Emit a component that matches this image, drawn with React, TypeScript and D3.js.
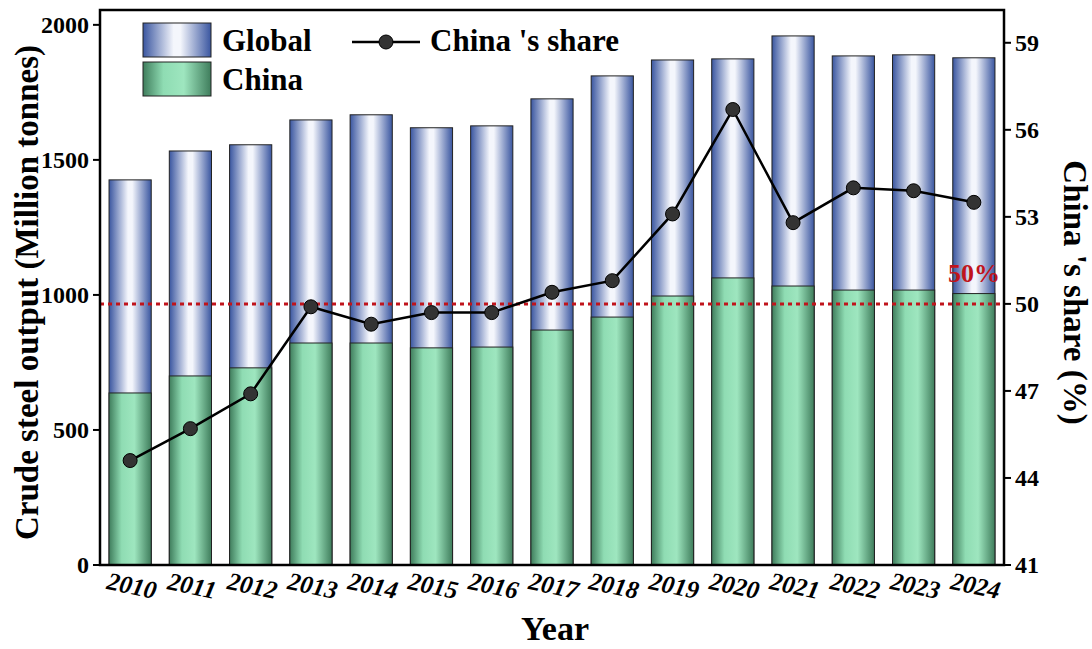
import React from "react";
import * as d3 from "d3";

const years = ["2010","2011","2012","2013","2014","2015","2016","2017","2018","2019","2020","2021","2022","2023","2024"];
const globalOut = [1426,1533,1556,1648,1667,1619,1626,1726,1811,1870,1874,1959,1885,1889,1878];
const chinaOut = [637,700,730,822,822,804,807,870,918,996,1063,1033,1018,1018,1005];
const share = [44.6,45.7,46.9,49.9,49.3,49.7,49.7,50.4,50.8,53.1,56.7,52.8,54.0,53.9,53.5];
const leftTicks = [0,500,1000,1500,2000];
const rightTicks = [41,44,47,50,53,56,59];

const F = "'Liberation Serif','Times New Roman',serif";

export default function App() {
  const L = 100, R = 1004, T = 10, B = 565;
  const x = d3.scaleBand().domain(years).range([L, R]).paddingInner(0.3).paddingOuter(0.15);
  const y = d3.scaleLinear().domain([0, 2055]).range([B, T]);
  const y2 = d3.scaleLinear().domain([41, 60.13]).range([B, T]);
  const line = d3.line<number>().x((_, i) => x(years[i])! + x.bandwidth() / 2).y(d => y2(d));
  return (
    <svg width={1092} height={649} style={{ position: "absolute", left: 0, top: 0 }} fontFamily={F} fontWeight="bold">
      <defs>
        <linearGradient id="gb" x1="0" x2="1">
          <stop offset="0" stopColor="#3a56a0" />
          <stop offset="0.45" stopColor="#f4f6fc" />
          <stop offset="0.55" stopColor="#f4f6fc" />
          <stop offset="1" stopColor="#3a56a0" />
        </linearGradient>
        <linearGradient id="gc" x1="0" x2="1">
          <stop offset="0" stopColor="#3f7d5c" />
          <stop offset="0.3" stopColor="#8fdcb3" />
          <stop offset="0.6" stopColor="#9ee6bf" />
          <stop offset="1" stopColor="#3f7d5c" />
        </linearGradient>
      </defs>
      {years.map((yr, i) => (
        <g key={yr}>
          <rect x={x(yr)} y={y(globalOut[i])} width={x.bandwidth()} height={B - y(globalOut[i])} fill="url(#gb)" stroke="#222" strokeWidth={1} />
          <rect x={x(yr)} y={y(chinaOut[i])} width={x.bandwidth()} height={B - y(chinaOut[i])} fill="url(#gc)" stroke="#222" strokeWidth={1} />
        </g>
      ))}
      <line x1={L} x2={R} y1={y2(50)} y2={y2(50)} stroke="#c0141c" strokeWidth={3} strokeDasharray="4,4" />
      <text x={1000} y={282} textAnchor="end" fill="#c0141c" fontSize={26}>50%</text>
      <path d={line(share)!} fill="none" stroke="#000" strokeWidth={2.5} />
      {share.map((s, i) => (
        <circle key={i} cx={x(years[i])! + x.bandwidth() / 2} cy={y2(s)} r={7} fill="#333" stroke="#000" />
      ))}
      <rect x={L} y={T} width={R - L} height={B - T} fill="none" stroke="#000" strokeWidth={2.5} />
      {leftTicks.map(t => (
        <g key={t}>
          <line x1={L - 7} x2={L} y1={y(t)} y2={y(t)} stroke="#000" strokeWidth={2} />
          <text x={L - 11} y={y(t) + 8} textAnchor="end" fontSize={24}>{t}</text>
        </g>
      ))}
      {rightTicks.map(t => (
        <g key={t}>
          <line x1={R} x2={R + 7} y1={y2(t)} y2={y2(t)} stroke="#000" strokeWidth={2} />
          <text x={R + 11} y={y2(t) + 8} fontSize={24}>{t}</text>
        </g>
      ))}
      {years.map(yr => (
        <text key={yr} transform={`translate(${x(yr)! + x.bandwidth() / 2},${B + 29}) rotate(12)`} textAnchor="middle" fontSize={25} fontStyle="italic">{yr}</text>
      ))}
      <text transform={`translate(38,${(T + B) / 2 + 5}) rotate(-90)`} textAnchor="middle" fontSize={33}>Crude steel output (Million tonnes)</text>
      <text transform={`translate(1064,${(T + B) / 2 + 5}) rotate(90)`} textAnchor="middle" fontSize={33}>China 's share (%)</text>
      <text x={555} y={640} textAnchor="middle" fontSize={34}>Year</text>
      <rect x={143} y={23} width={68} height={34} fill="url(#gb)" stroke="#222" />
      <text x={222} y={51} fontSize={31}>Global</text>
      <rect x={143} y={62} width={68} height={34} fill="url(#gc)" stroke="#222" />
      <text x={222} y={90} fontSize={31}>China</text>
      <line x1={352} x2={420} y1={42} y2={42} stroke="#000" strokeWidth={2.5} />
      <circle cx={386} cy={42} r={7} fill="#333" stroke="#000" />
      <text x={430} y={51} fontSize={31}>China 's share</text>
    </svg>
  );
}
